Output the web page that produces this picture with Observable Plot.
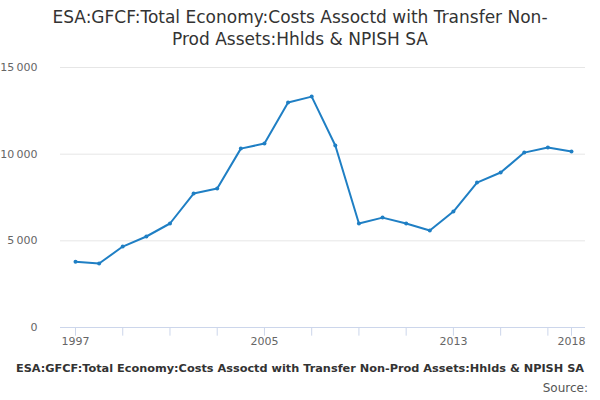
<!DOCTYPE html>
<html><head><meta charset="utf-8">
<script src="https://cdn.jsdelivr.net/npm/d3@7"></script>
<script src="https://cdn.jsdelivr.net/npm/@observablehq/plot@0.6"></script>
<style>
body{margin:0;background:#fff;font-family:"DejaVu Sans",sans-serif;}
#wrap{width:600px;height:400px;overflow:hidden;position:relative}
#title{height:55px;text-align:center;font-size:17px;color:#333;line-height:22px;padding-top:6px;box-sizing:border-box}
#cap{display:flex;justify-content:center;white-space:nowrap;font-size:11.3px;font-weight:bold;color:#333;margin-top:7px}
#src{text-align:right;font-size:12px;color:#555;padding-right:12px;margin-top:6px}
</style></head>
<body><div id="wrap">
<div id="title">ESA:GFCF:Total Economy:Costs Assoctd with Transfer Non-<br>Prod Assets:Hhlds &amp; NPISH SA</div>
<div id="plot"></div>
<div id="cap"><span>ESA:GFCF:Total Economy:Costs Assoctd with Transfer Non-Prod Assets:Hhlds &amp; NPISH SA</span></div>
<div id="src">Source:</div>
</div>
<script>
const years = [1997,1998,1999,2000,2001,2002,2003,2004,2005,2006,2007,2008,2009,2010,2011,2012,2013,2014,2015,2016,2017,2018];
const values = [3800,3690,4670,5250,6000,7730,8020,10320,10610,12980,13320,10500,6000,6340,6000,5600,6690,8360,8940,10090,10380,10150];
const yTicks = [0,5000,10000,15000];
const xLabels = [1997,2005,2013,2018];
const xTickMarks = [1997,1999,2001,2003,2005,2007,2009,2011,2013,2015,2017,2018];

const data = years.map((y,i)=>({year:y, value:values[i]}));
const fmt = v => d3.format(",")(v).replace(/,/g, "\u2009");

const plot = Plot.plot({
  width: 600, height: 300,
  marginTop: 12, marginBottom: 28, marginLeft: 60, marginRight: 15,
  x: {domain:[1997,2018], insetLeft:15, insetRight:14, axis:null},
  y: {domain:[0,15000], axis:null},
  style:{fontFamily:"DejaVu Sans, sans-serif", fontSize:"11px", color:"#666"},
  marks: [
    Plot.ruleY(yTicks, {stroke:"#e6e6e6"}),
    Plot.ruleY([0], {stroke:"#ccd6eb"}),
    Plot.text(yTicks, {x:1997, y:d=>d, text:d=>fmt(d), dx:-38, textAnchor:"end", fill:"#666"}),
    Plot.ruleX(xTickMarks, {x:d=>d, y1:0, y2:-500, stroke:"#ccd6eb"}),
    Plot.text(xLabels, {x:d=>d, y:0, text:d=>String(d), dy:14, fill:"#666"}),
    Plot.line(data, {x:"year", y:"value", stroke:"#1f7fc4", strokeWidth:2}),
    Plot.dot(data, {x:"year", y:"value", fill:"#1f7fc4", r:2})
  ]
});
document.getElementById("plot").append(plot);
</script>
</body></html>
